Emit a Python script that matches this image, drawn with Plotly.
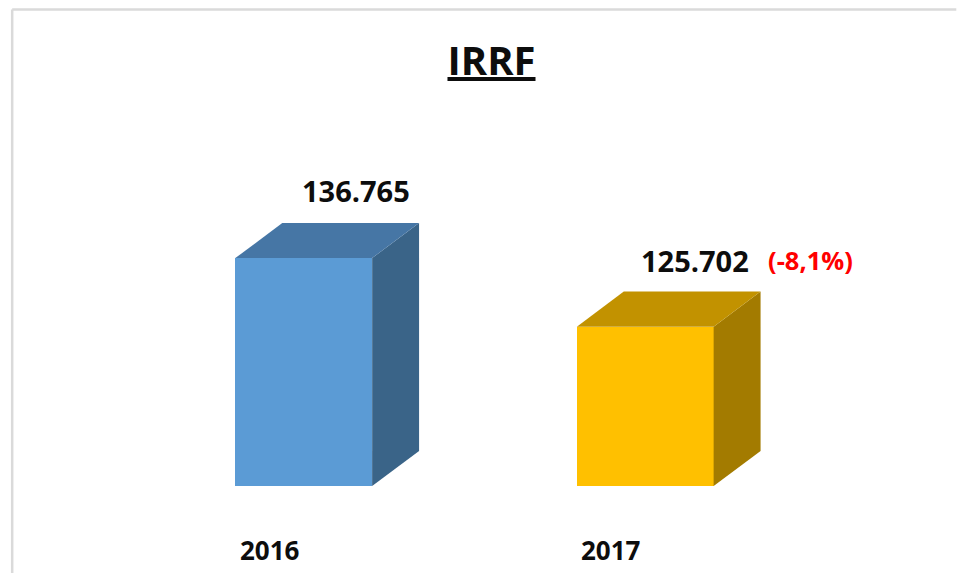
import plotly.graph_objects as go

categories = ["2016", "2017"]
values = [136765, 125702]
value_labels = ["136.765", "125.702"]
change_label = "(-8,1%)"
title = "IRRF"
front_colors = ["#5B9BD5", "#FFC000"]
top_colors = ["#4676A5", "#C29200"]
side_colors = ["#3A6488", "#A37B00"]

W, H = 957, 573
L, R, T, B = 132.5, 140.5, 114.3, 87
AX_MIN, AX_MAX = 100000, 160000
BAR_W = 137 / 342
DX = 47 / 342
DY = 35 * (AX_MAX - AX_MIN) / (H - T - B)
FONT = "Open Sans"

fig = go.Figure()
xs = list(range(len(categories)))

for i, v in zip(xs, values):
    x0, x1 = i - BAR_W / 2, i + BAR_W / 2
    fig.add_trace(go.Scatter(
        x=[x1, x1 + DX, x1 + DX, x1, x1], y=[AX_MIN, AX_MIN + DY, v + DY, v, AX_MIN],
        mode="lines", fill="toself", fillcolor=side_colors[i], line=dict(width=0),
        hoverinfo="skip", showlegend=False))
    fig.add_trace(go.Scatter(
        x=[x0, x0 + DX, x1 + DX, x1, x0], y=[v, v + DY, v + DY, v, v],
        mode="lines", fill="toself", fillcolor=top_colors[i], line=dict(width=0),
        hoverinfo="skip", showlegend=False))

fig.add_trace(go.Bar(x=xs, y=values, width=BAR_W, marker=dict(color=front_colors, line=dict(width=0)),
                     base=None, showlegend=False, hoverinfo="skip"))

label_shift = [(52.5, 67.5), (49.5, 66.5)]
for i, v in zip(xs, values):
    fig.add_annotation(x=i, y=v, text=f"<b>{value_labels[i]}</b>", showarrow=False,
                       xshift=label_shift[i][0], yshift=label_shift[i][1],
                       font=dict(family=FONT, size=29, color="#0D0D0D"))
    fig.add_annotation(x=i, y=AX_MIN, text=f"<b>{categories[i]}</b>", showarrow=False,
                       xshift=-34, yshift=-63.5,
                       font=dict(family=FONT, size=26, color="#0D0D0D"))
fig.add_annotation(x=1, y=values[1], text=f"<b>{change_label}</b>", showarrow=False,
                   xshift=165, yshift=67, font=dict(family=FONT, size=25.5, color="#FF0000"))

def px(x): return (x - L) / (W - L - R)
def py(y): return 1 - (y - T) / (H - T - B)

border = dict(type="line", xref="paper", yref="paper", line=dict(color="#DADADA", width=2.5), layer="below")
fig.add_shape(**border, x0=px(11.5), x1=px(957), y0=py(10), y1=py(10))
fig.add_shape(**border, x0=px(11.5), x1=px(11.5), y0=py(10), y1=py(573))

fig.update_layout(
    width=W, height=H, autosize=False,
    margin=dict(l=L, r=R, t=T, b=B, pad=0),
    paper_bgcolor="white", plot_bgcolor="white",
    font=dict(family=FONT),
    title=dict(text=f"<b>{title}</b>", x=px(491.5) * (W - L - R) / W + L / W, xanchor="center",
               y=1 - 61 / H, yanchor="middle",
               font=dict(family=FONT, size=40, color="#0D0D0D", lineposition="under")),
    xaxis=dict(range=[-0.5, 1.5], visible=False, fixedrange=True),
    yaxis=dict(range=[AX_MIN, AX_MAX], visible=False, fixedrange=True),
    bargap=0,
)

fig.write_html("out.html", config=dict(displayModeBar=False),
               post_script="document.body.style.margin='0';document.body.style.overflow='hidden';")
